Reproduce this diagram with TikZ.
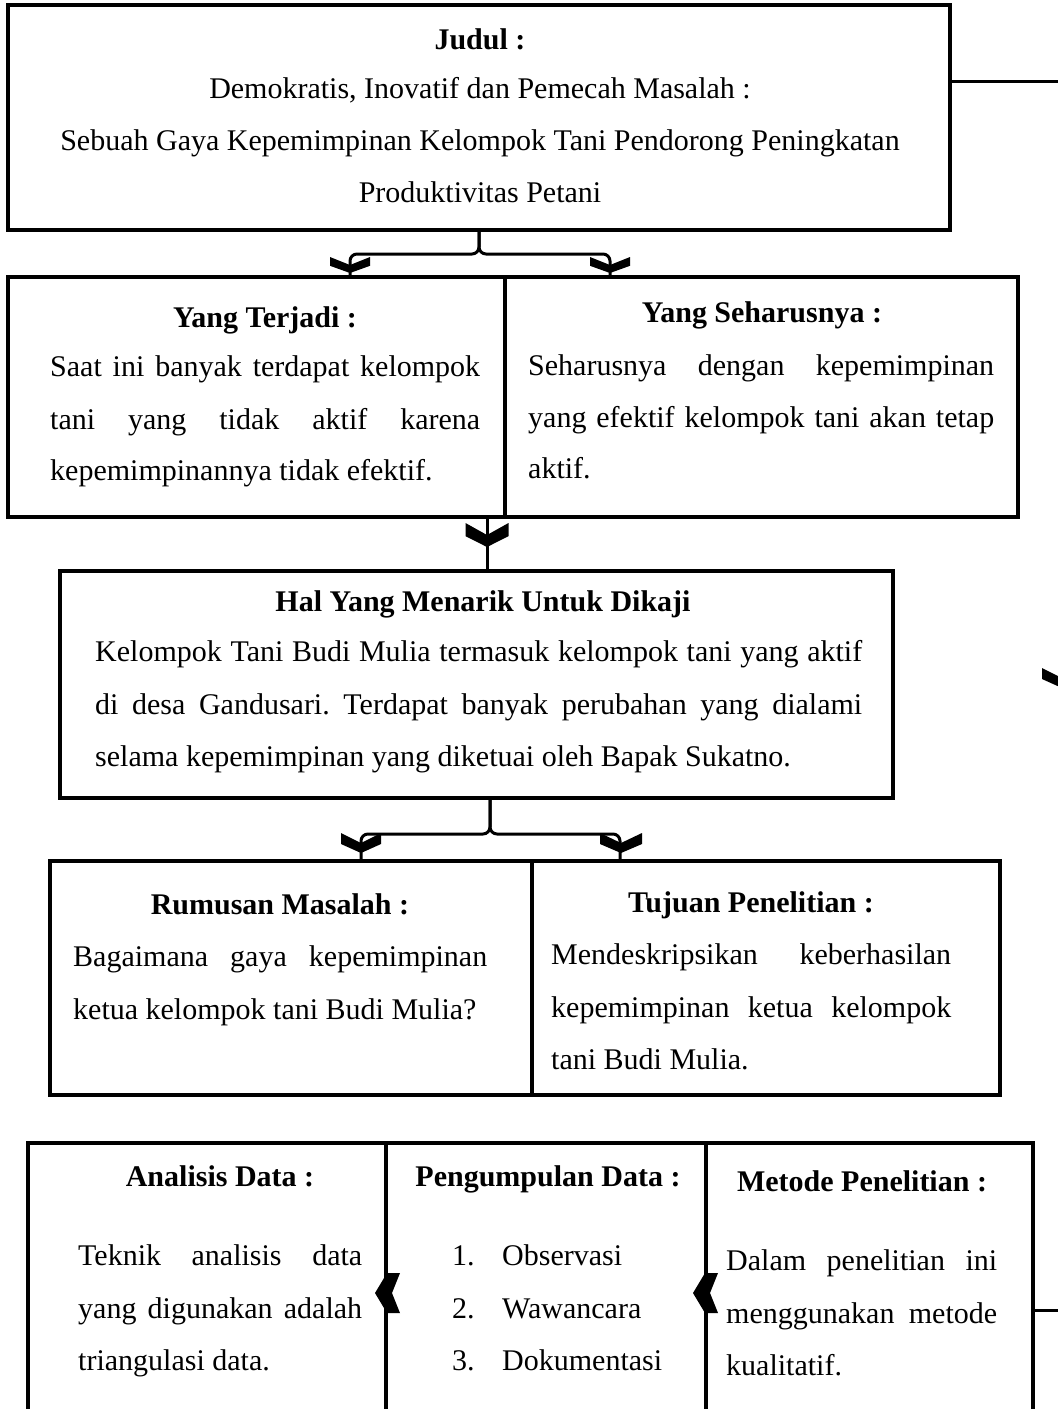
\documentclass[tikz,border=0pt]{standalone}
\usepackage{fontspec}
\setmainfont{Liberation Serif}
\usetikzlibrary{calc}
\frenchspacing
\newcommand\chevD[4]{\fill (#1-#3,#2-#4) -- (#1,#2-#4/2) -- (#1+#3,#2-#4) -- (#1+#3,#2-0.45*#4) -- (#1,#2) -- (#1-#3,#2-0.45*#4) -- cycle;}
\newcommand\chevL[2]{\fill (#1,#2) -- (#1+12,#2-20) -- (#1+25,#2-20) -- (#1+17,#2) -- (#1+25,#2+20) -- (#1+12,#2+20) -- cycle;}
\newcommand\jline[2]{\makebox[#1][s]{#2}}
\begin{document}
\begin{tikzpicture}[x=1pt,y=-1pt,
  box/.style={draw, line width=4pt, inner sep=0pt},
  conn/.style={line width=3pt},
  txt/.style={inner sep=0pt, font=\fontsize{30}{52}\selectfont},
  hd/.style={txt, font=\fontsize{30}{52}\selectfont\bfseries, anchor=mid},
  ln/.style={txt, anchor=mid west}]
\useasboundingbox (0,0) rectangle (1058,1409);
\fill[white] (0,0) rectangle (1058,1409);
\clip (0,0) rectangle (1058,1409);

% boxes
\node[box, minimum width=942pt, minimum height=225pt] (title) at (479,117.5) {};
\node[box, minimum width=497pt, minimum height=240pt] (yt) at (256.5,397) {};
\node[box, minimum width=513pt, minimum height=240pt] (ys) at (761.5,397) {};
\node[box, minimum width=833pt, minimum height=227pt] (hal) at (476.5,684.5) {};
\node[box, minimum width=482pt, minimum height=234pt] (rm) at (291,978) {};
\node[box, minimum width=468pt, minimum height=234pt] (tp) at (766,978) {};
\node[box, minimum width=358pt, minimum height=297pt] (ad) at (207,1291.5) {};
\node[box, minimum width=320pt, minimum height=297pt] (pd) at (546,1291.5) {};
\node[box, minimum width=327pt, minimum height=297pt] (mp) at (869.5,1291.5) {};

\begin{scope}[shift={(0,7)}]
% title text
\node[hd] (t0) at (480,40) {Judul :};
\node[txt, anchor=mid] (t1) at (480,89) {Demokratis, Inovatif dan Pemecah Masalah :};
\node[txt, anchor=mid] (t2) at (480,141) {Sebuah Gaya Kepemimpinan Kelompok Tani Pendorong Peningkatan};
\node[txt, anchor=mid] (t3) at (480,193) {Produktivitas Petani};

% yang terjadi
\node[hd] (yt0) at (265,318) {Yang Terjadi :};
\node[ln] (yt1) at (50,367) {\jline{430pt}{Saat ini banyak terdapat kelompok}};
\node[ln] (yt2) at (50,420) {\jline{430pt}{tani yang tidak aktif karena}};
\node[ln] (yt3) at (50,471) {kepemimpinannya tidak efektif.};

% yang seharusnya
\node[hd] (ys0) at (762,313) {Yang Seharusnya :};
\node[ln] (ys1) at (528,366) {\jline{466pt}{Seharusnya dengan kepemimpinan}};
\node[ln] (ys2) at (528,418) {\jline{466pt}{yang efektif kelompok tani akan tetap}};
\node[ln] (ys3) at (528,469) {aktif.};

% hal yang menarik
\node[hd] (h0) at (483,602) {Hal Yang Menarik Untuk Dikaji};
\node[ln] (h1) at (95,652) {\jline{767pt}{Kelompok Tani Budi Mulia termasuk kelompok tani yang aktif}};
\node[ln] (h2) at (95,705) {\jline{767pt}{di desa Gandusari. Terdapat banyak perubahan yang dialami}};
\node[ln] (h3) at (95,757) {selama kepemimpinan yang diketuai oleh Bapak Sukatno.};

% rumusan masalah
\node[hd] (rm0) at (280,905) {Rumusan Masalah :};
\node[ln] (rm1) at (73,957) {\jline{414pt}{Bagaimana gaya kepemimpinan}};
\node[ln] (rm2) at (73,1010) {ketua kelompok tani Budi Mulia?};

% tujuan penelitian
\node[hd] (tp0) at (751,903) {Tujuan Penelitian :};
\node[ln] (tp1) at (551,955) {\jline{400pt}{Mendeskripsikan keberhasilan}};
\node[ln] (tp2) at (551,1008) {\jline{400pt}{kepemimpinan ketua kelompok}};
\node[ln] (tp3) at (551,1060) {tani Budi Mulia.};

% analisis data
\node[hd] (ad0) at (220,1177) {Analisis Data :};
\node[ln] (ad1) at (78,1256) {\jline{284pt}{Teknik analisis data}};
\node[ln] (ad2) at (78,1309) {\jline{284pt}{yang digunakan adalah}};
\node[ln] (ad3) at (78,1361) {triangulasi data.};

% pengumpulan data
\node[hd] (pd0) at (548,1177) {Pengumpulan Data :};
\node[ln] (pn1) at (452,1256) {1.};
\node[ln] (pn2) at (452,1309) {2.};
\node[ln] (pn3) at (452,1361) {3.};
\node[ln] (pi1) at (502,1256) {Observasi};
\node[ln] (pi2) at (502,1309) {Wawancara};
\node[ln] (pi3) at (502,1361) {Dokumentasi};

% metode penelitian
\node[hd] (mp0) at (862,1182) {Metode Penelitian :};
\node[ln] (mp1) at (726,1261) {\jline{271pt}{Dalam penelitian ini}};
\node[ln] (mp2) at (726,1314) {\jline{271pt}{menggunakan metode}};
\node[ln] (mp3) at (726,1366) {kualitatif.};
\end{scope}

% connectors
\coordinate (xA) at (350,0);
\coordinate (xB) at (610,0);
\coordinate (xC) at (487,0);
\coordinate (xD) at (490,0);
\coordinate (xE) at (361,0);
\coordinate (xF) at (620,0);
\coordinate (R1) at (1062,81);
\coordinate (R2) at (1062,1310);

\draw[conn, rounded corners=7pt] (title.south) -- ++(0,22) -| (yt.north -| xA);
\draw[conn, rounded corners=7pt] (title.south) -- ++(0,22) -| (ys.north -| xB);
\chevD{350}{273}{20}{16}
\chevD{610}{273}{20}{16}

\draw[conn] (yt.south -| xC) -- (hal.north -| xC);
\chevD{487}{547}{21.5}{24}

\draw[conn, rounded corners=7pt] (hal.south -| xD) -- ++(0,34) -| (rm.north -| xE);
\draw[conn, rounded corners=7pt] (hal.south -| xD) -- ++(0,34) -| (tp.north -| xF);
\chevD{361}{853}{20}{20}
\chevD{621}{853}{21}{20}

\draw[conn] (title.east |- R1) -- (R1) -- (R2) -- (mp.east |- R2);
\chevD{1062}{688}{20}{20}

\chevL{375}{1293}
\chevL{693}{1293}
\end{tikzpicture}
\end{document}
